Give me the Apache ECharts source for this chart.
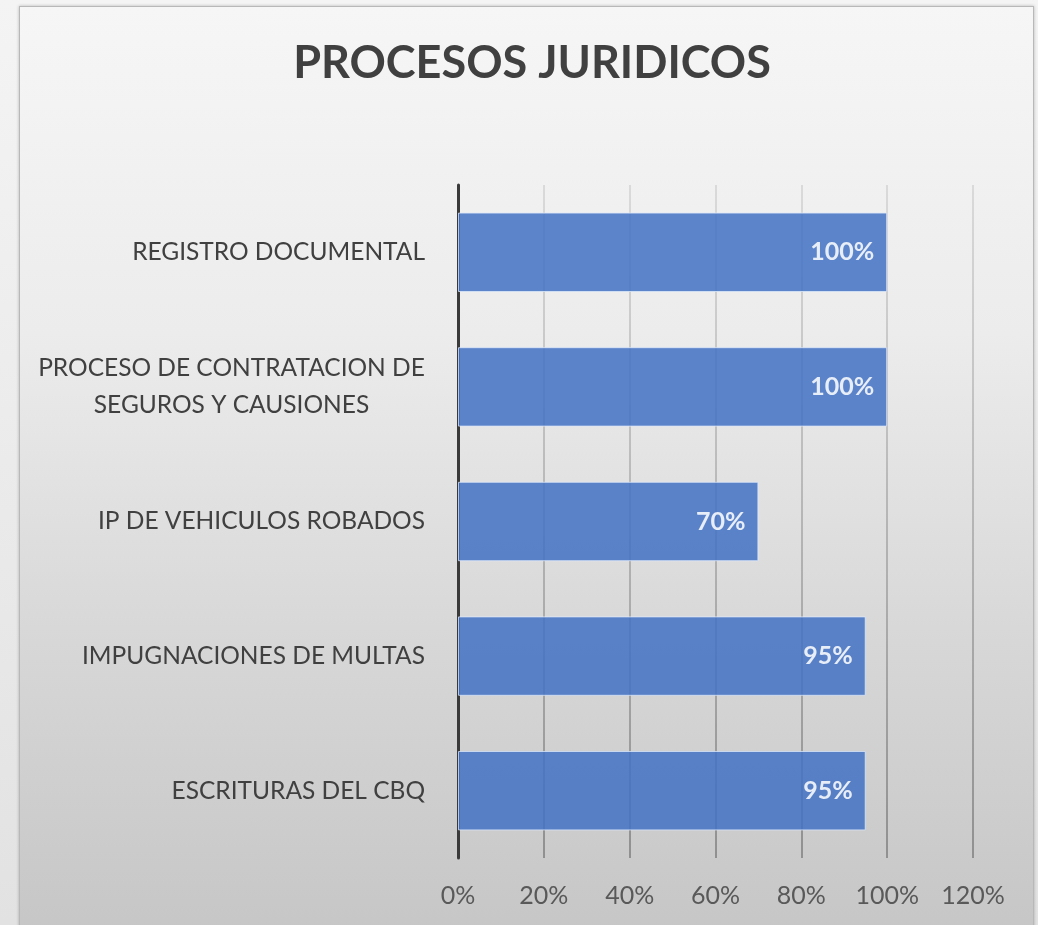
<!DOCTYPE html>
<html>
<head>
<meta charset="utf-8">
<title>Procesos Juridicos</title>
<script src="https://cdn.jsdelivr.net/npm/echarts@6/dist/echarts.min.js"></script>
<style>
  html, body {
    margin: 0;
    padding: 0;
    width: 1038px;
    height: 925px;
    overflow: hidden;
    background: linear-gradient(180deg, #f4f4f4 0%, #e2e2e2 100%);
  }
  .panel {
    position: absolute;
    left: 19px;
    top: 6px;
    width: 1013px;
    height: 930px;
    border: 1px solid #b8b8b8;
    background: linear-gradient(180deg, #f6f6f6 0%, #ececec 35%, #d6d6d6 70%, #c6c6c6 100%);
    box-shadow: 0 0 3px rgba(0,0,0,0.25);
  }
  #chart {
    position: absolute;
    left: 0;
    top: 0;
    width: 1038px;
    height: 925px;
  }
</style>
</head>
<body>
<div class="panel"></div>
<div id="chart"></div>
<script>
// datos del gráfico
const categorias = [
  'REGISTRO DOCUMENTAL',
  'PROCESO DE CONTRATACION DE\nSEGUROS Y CAUSIONES',
  'IP DE VEHICULOS ROBADOS',
  'IMPUGNACIONES DE MULTAS',
  'ESCRITURAS DEL CBQ'
]
const avance = [100, 100, 70, 95, 95]
const ticksX = [0, 20, 40, 60, 80, 100, 120]

const FONT = 'Lato, "Open Sans", sans-serif'
const catSize = 24.5

// ancho de una línea, para centrar la etiqueta de dos líneas
function textWidth(txt, size) {
  const c = document.createElement('canvas').getContext('2d')
  c.font = size + 'px ' + FONT
  return Math.ceil(c.measureText(txt).width)
}

const chart = echarts.init(document.getElementById('chart'), null, { renderer: 'canvas' })

const gridLine = new echarts.graphic.LinearGradient(0, 0, 0, 1, [
  { offset: 0, color: '#dadada' },
  { offset: 1, color: '#909090' }
])

chart.setOption({
  backgroundColor: 'transparent',
  title: {
    text: 'PROCESOS JURIDICOS',
    left: 527,
    textAlign: 'center',
    top: 36,
    textStyle: { fontFamily: FONT, fontSize: 45, fontWeight: 'bold', color: '#404040' }
  },
  grid: { left: 458, right: 65, top: 185, bottom: 67, containLabel: false },
  xAxis: {
    type: 'value',
    min: ticksX[0],
    max: ticksX[ticksX.length - 1],
    interval: ticksX[1] - ticksX[0],
    axisLine: { show: false },
    axisTick: { show: false },
    axisLabel: {
      margin: 25,
      fontFamily: FONT,
      fontSize: 25,
      color: '#595959',
      formatter: v => v + '%'
    },
    splitLine: { show: true, lineStyle: { color: gridLine, width: 2 } }
  },
  yAxis: {
    type: 'category',
    inverse: true,
    data: categorias,
    axisLine: { show: true, lineStyle: { color: '#3a3a3a', width: 3 } },
    axisTick: { show: false },
    axisLabel: {
      margin: 33,
      fontFamily: FONT,
      fontSize: catSize,
      color: '#404040',
      formatter: v => {
        const lines = v.split('\n')
        if (lines.length === 1) return v
        return lines.map(l => '{c|' + l + '}').join('\n')
      },
      rich: {
        c: {
          fontFamily: FONT,
          fontSize: catSize,
          color: '#404040',
          lineHeight: 37,
          align: 'center',
          width: textWidth('PROCESO DE CONTRATACION DE', catSize)
        }
      }
    }
  },
  series: [
    {
      type: 'bar',
      data: avance,
      barWidth: '59%',
      itemStyle: {
        color: '#4472C4',
        opacity: 0.86,
        borderColor: 'rgba(220,232,250,0.9)',
        borderWidth: 1
      },
      label: {
        show: true,
        position: 'insideRight',
        distance: 13,
        fontFamily: FONT,
        fontSize: 25,
        fontWeight: 'bold',
        color: '#ffffff',
        formatter: p => p.value + '%'
      },
      silent: true
    }
  ]
})
</script>
</body>
</html>
